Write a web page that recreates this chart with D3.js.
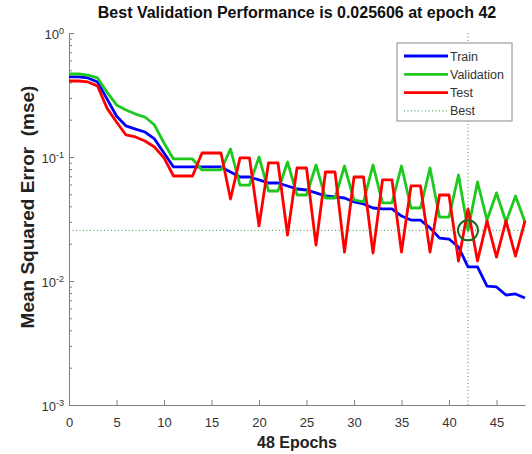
<!DOCTYPE html>
<html>
<head>
<meta charset="utf-8">
<script src="https://cdn.jsdelivr.net/npm/d3@7"></script>
<style>
body { margin: 0; background: #fff; }
text { font-family: "Liberation Sans", Arial, Helvetica, sans-serif; }
</style>
</head>
<body>
<div id="chart"></div>
<script>
// values (mse per epoch, 0..48)
var train = [0.442, 0.442, 0.434, 0.403, 0.294, 0.214, 0.178, 0.168, 0.159, 0.1397,
    0.1077, 0.0831, 0.0831, 0.0831, 0.0831, 0.0831, 0.0831, 0.0757, 0.069, 0.069,
    0.0653, 0.0617, 0.0617, 0.0584, 0.0552, 0.0542, 0.0513, 0.0485, 0.0476, 0.0467,
    0.0434, 0.0418, 0.0388, 0.0381, 0.0381, 0.0334, 0.031, 0.031, 0.0268, 0.0222,
    0.0218, 0.0188, 0.013, 0.013, 0.00911, 0.00895, 0.00771, 0.00786, 0.00729];
var validation = [0.467, 0.467, 0.458, 0.434, 0.334, 0.263, 0.239, 0.222, 0.21, 0.181,
    0.1297, 0.0964, 0.0964, 0.0964, 0.0786, 0.0786, 0.0786, 0.116, 0.0594, 0.0594,
    0.1, 0.0532, 0.0532, 0.0912, 0.0494, 0.0494, 0.0862, 0.0467, 0.0467, 0.0846,
    0.045, 0.0434, 0.0862, 0.0426, 0.0426, 0.0846, 0.0388, 0.0388, 0.0815, 0.0328,
    0.0328, 0.0716, 0.025606, 0.0629, 0.031, 0.0513, 0.0299, 0.0485, 0.0299];
var test = [0.41, 0.41, 0.403, 0.374, 0.248, 0.1915, 0.1505, 0.145, 0.1346, 0.1204,
    0.0983, 0.0703, 0.0703, 0.0703, 0.1077, 0.1077, 0.1077, 0.0458, 0.0983, 0.0983,
    0.0278, 0.0895, 0.0895, 0.0235, 0.0815, 0.0815, 0.0195, 0.0757, 0.0757, 0.0171,
    0.069, 0.069, 0.0168, 0.0653, 0.0653, 0.0171, 0.0584, 0.0584, 0.0171, 0.0494,
    0.0494, 0.0145, 0.0381, 0.0145, 0.0305, 0.0156, 0.0305, 0.0159, 0.0305];
var bestEpoch = 42;
var bestPerf = 0.025606;
var nEpochs = 48;
var xTicks = [0, 5, 10, 15, 20, 25, 30, 35, 40, 45];
var yExps = [-3, -2, -1, 0];

var svg = d3.select('#chart')
    .append('svg')
    .attr('width', 532)
    .attr('height', 454);

var margin = {top: 33, right: 7, bottom: 49, left: 69};
var width = +svg.attr("width") - margin.left - margin.right;
var height = +svg.attr("height") - margin.top - margin.bottom;
var g = svg.append("g").attr("transform", "translate(" + margin.left + "," + margin.top + ")");

var x = d3.scaleLinear().domain([0, nEpochs]).range([0, width]);
var y = d3.scaleLog().domain([1e-3, 1]).range([height, 0]);

var axisColor = "#808080";
var labelColor = "#333";

// minor ticks on the log axis
var minor = [];
yExps.slice(0, 3).forEach(function (p) {
    for (var k = 2; k <= 9; k++) minor.push(k * Math.pow(10, p));
});

var yMinor = g.append("g")
    .call(d3.axisLeft(y).tickValues(minor).tickSize(-3).tickSizeOuter(0).tickFormat(""));
var yAxis = g.append("g")
    .call(d3.axisLeft(y).tickValues(yExps.map(function (p) { return Math.pow(10, p); }))
        .tickSize(-5).tickSizeOuter(0).tickFormat(""));
[yMinor, yAxis].forEach(function (a) {
    a.selectAll("line").attr("stroke", axisColor);
    a.select(".domain").attr("stroke", axisColor);
});

var xAxis = g.append("g")
    .attr("transform", "translate(0," + height + ")")
    .call(d3.axisBottom(x).tickValues(xTicks).tickSize(-5).tickSizeOuter(0).tickPadding(13));
xAxis.selectAll("line").attr("stroke", axisColor);
xAxis.select(".domain").attr("stroke", axisColor);
xAxis.selectAll("text")
    .attr("fill", labelColor)
    .style("font-size", "13px")
    .style("font-family", '"Liberation Sans", Arial, sans-serif');

// 10^n labels
var yLab = g.append("g");
yExps.forEach(function (p) {
    var t = yLab.append("text")
        .attr("x", -5)
        .attr("y", y(Math.pow(10, p)))
        .attr("dy", "0.45em")
        .attr("text-anchor", "end")
        .attr("fill", labelColor)
        .style("font-size", "13px");
    t.append("tspan").text("10");
    t.append("tspan")
        .attr("dy", "-0.55em")
        .style("font-size", "9px")
        .text(String(p));
});

var line = d3.line()
    .x(function (d, i) { return x(i); })
    .y(function (d) { return y(d); });

var info = [
    {name: "Train", color: "#0000ff", values: train},
    {name: "Validation", color: "#1ec81e", values: validation},
    {name: "Test", color: "#ff0000", values: test}
];

info.forEach(function (s) {
    g.append("path")
        .datum(s.values)
        .attr("fill", "none")
        .attr("stroke", s.color)
        .attr("stroke-width", 2.8)
        .attr("stroke-linejoin", "round")
        .attr("d", line);
});

// best epoch markers
var bestColor = "#3a8f3a";
g.append("line")
    .attr("x1", x(bestEpoch)).attr("x2", x(bestEpoch))
    .attr("y1", 0).attr("y2", height)
    .attr("stroke", bestColor).attr("stroke-width", 1)
    .attr("stroke-dasharray", "1,2.5");
g.append("line")
    .attr("x1", 0).attr("x2", width)
    .attr("y1", y(bestPerf)).attr("y2", y(bestPerf))
    .attr("stroke", bestColor).attr("stroke-width", 1)
    .attr("stroke-dasharray", "1,2.5");
g.append("circle")
    .attr("cx", x(bestEpoch)).attr("cy", y(bestPerf))
    .attr("r", 10)
    .attr("fill", "none")
    .attr("stroke", "#1d6b1d")
    .attr("stroke-width", 2);

// legend
var legend = svg.append("g").attr("transform", "translate(397,43)");
legend.append("rect")
    .attr("width", 115).attr("height", 78)
    .attr("fill", "#fff").attr("stroke", "#888");
var legendItems = info.concat([{name: "Best", color: bestColor, dotted: true}]);
legendItems.forEach(function (s, i) {
    var ly = 13 + i * 18.3;
    legend.append("line")
        .attr("x1", 7).attr("x2", 51)
        .attr("y1", ly).attr("y2", ly)
        .attr("stroke", s.color)
        .attr("stroke-width", s.dotted ? 1 : 2.8)
        .attr("stroke-dasharray", s.dotted ? "1,2.5" : null);
    legend.append("text")
        .attr("x", 53).attr("y", ly)
        .attr("dy", "0.36em")
        .attr("fill", labelColor)
        .style("font-size", "12.5px")
        .text(s.name);
});

// titles
svg.append("text")
    .attr("x", margin.left + width / 2)
    .attr("y", 18)
    .attr("text-anchor", "middle")
    .attr("font-weight", "bold")
    .attr("fill", "#111")
    .style("font-size", "16px")
    .text("Best Validation Performance is " + bestPerf + " at epoch " + bestEpoch);

svg.append("text")
    .attr("x", margin.left + width / 2)
    .attr("y", 448)
    .attr("text-anchor", "middle")
    .attr("font-weight", "bold")
    .attr("fill", "#222")
    .style("font-size", "16px")
    .text(nEpochs + " Epochs");

svg.append("text")
    .attr("transform", "translate(34,207) rotate(-90)")
    .attr("text-anchor", "middle")
    .attr("font-weight", "bold")
    .attr("fill", "#222")
    .style("font-size", "19px")
    .style("white-space", "pre")
    .text("Mean Squared Error  (mse)");
</script>
</body>
</html>
